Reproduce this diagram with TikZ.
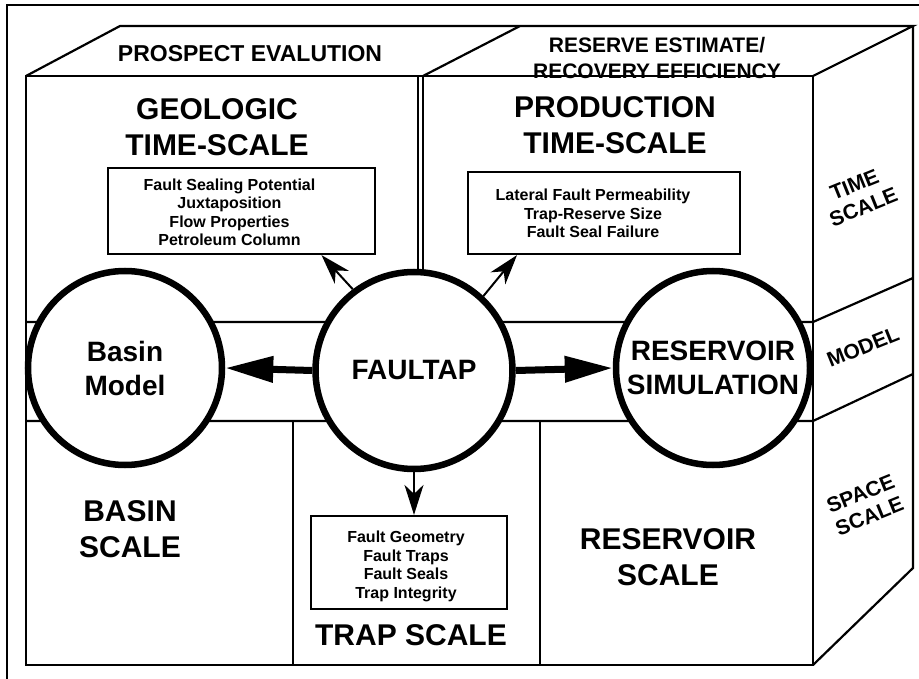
\documentclass[tikz,border=0pt]{standalone}
\usepackage{fontspec}
\setmainfont{Liberation Sans}
\usetikzlibrary{arrows.meta}
\begin{document}
\begin{tikzpicture}[x=1pt,y=-1pt,
 edge/.style={line width=2.2pt, line join=miter},
 ring/.style={circle, draw, line width=6.5pt, fill=white, inner sep=0pt, minimum size=194pt, align=center, font=\bfseries\fontsize{28}{34}\selectfont},
 infobox/.style={draw, line width=2.2pt, fill=white, inner sep=0pt},
 infotext/.style={align=center, inner sep=0pt, font=\bfseries\fontsize{16}{18.5}\selectfont},
 heading/.style={align=center, font=\bfseries\fontsize{30}{36}\selectfont, inner sep=0pt},
 toplabel/.style={align=center, font=\bfseries\fontsize{21}{26.5}\selectfont, inner sep=0pt},
 sidelabel/.style={align=center, font=\bfseries\fontsize{21}{24}\selectfont, inner sep=0pt, rotate=22},
 bigarrow/.style={line width=7pt, -{Triangle[length=48pt,width=25pt]}},
 smallarrow/.style={line width=2pt, -{Stealth[length=30pt,width=19pt,inset=9pt]}},
]
\useasboundingbox (0,0) rectangle (919,679);
% outer frame
\draw[line width=2pt] (7,700) -- (7,5) -- (940,5);
% box corners
\coordinate (FTL) at (26,76);
\coordinate (FTR) at (813,76);
\coordinate (FBR) at (813,665);
\coordinate (BTL) at (120,26);
\coordinate (BTR) at (913,26);
\coordinate (BBR) at (913,568);
% faces
\draw[edge] (FTL) -- (BTL) -- (BTR) -- (FTR);
\draw[edge] (BTR) -- (BBR) -- (FBR);
\draw[edge] (FTL) rectangle (FBR);
\draw[edge] (423,76) -- (520,26);
\draw[edge] (418,76) -- (418,322);
\draw[edge] (423,76) -- (423,322);
\draw[edge] (26,322) -- (813,322) -- (913,278);
\draw[edge] (26,421) -- (813,421) -- (913,374);
\draw[edge] (293,421) -- (293,665);
\draw[edge] (540,421) -- (540,665);
% info boxes
\node[infobox, minimum width=267pt, minimum height=86pt] (geobox) at (241.5,211) {};
\node[infotext] (geotext) at (229.5,212.5)
  {Fault Sealing Potential\\Juxtaposition\\Flow Properties\\Petroleum Column};
\node[infobox, minimum width=272pt, minimum height=82pt] (prodbox) at (604,213) {};
\node[infotext] (prodtext) at (593,213.5)
  {Lateral Fault Permeability\\Trap-Reserve Size\\Fault Seal Failure};
\node[infobox, minimum width=196pt, minimum height=93pt] (trapbox) at (409,562.5) {};
\node[infotext] (traptext) at (406,566.5)
  {Fault Geometry\\Fault Traps\\Fault Seals\\Trap Integrity};
% circles
\node[ring] (basin) at (125,368) {Basin\\Model};
\node[ring, minimum size=197pt] (faultap) at (414,370.5) {FAULTAP};
\node[ring] (reservoir) at (713,368) {RESERVOIR\\SIMULATION};
% arrows
\draw[bigarrow] (faultap.west) -- (basin.east);
\draw[bigarrow] (faultap.east) -- (reservoir.west);
\draw[smallarrow] (faultap.127) -- ([xshift=80pt]geobox.south);
\draw[smallarrow] (faultap.47) -- ([xshift=-87pt]prodbox.south);
\draw[smallarrow] (faultap.south) -- (faultap.south |- trapbox.north);
% labels
\node[toplabel, font=\bfseries\fontsize{23}{26.5}\selectfont] (prospect) at (250,53.5) {PROSPECT EVALUTION};
\node[toplabel] (reserve) at (657,58) {RESERVE ESTIMATE/\\RECOVERY EFFICIENCY};
\node[heading] (geo) at (217,127) {GEOLOGIC\\TIME-SCALE};
\node[heading] (prod) at (615,125) {PRODUCTION\\TIME-SCALE};
\node[heading] (basinscale) at (130,529) {BASIN\\SCALE};
\node[heading] (resscale) at (668,557) {RESERVOIR\\SCALE};
\node[heading] (trapscale) at (411,635) {TRAP SCALE};
\node[sidelabel] (timescale) at (859,196) {TIME\\SCALE};
\node[sidelabel] (model) at (863,347) {MODEL};
\node[sidelabel] (spacescale) at (865,505) {SPACE\\SCALE};
\end{tikzpicture}
\end{document}
